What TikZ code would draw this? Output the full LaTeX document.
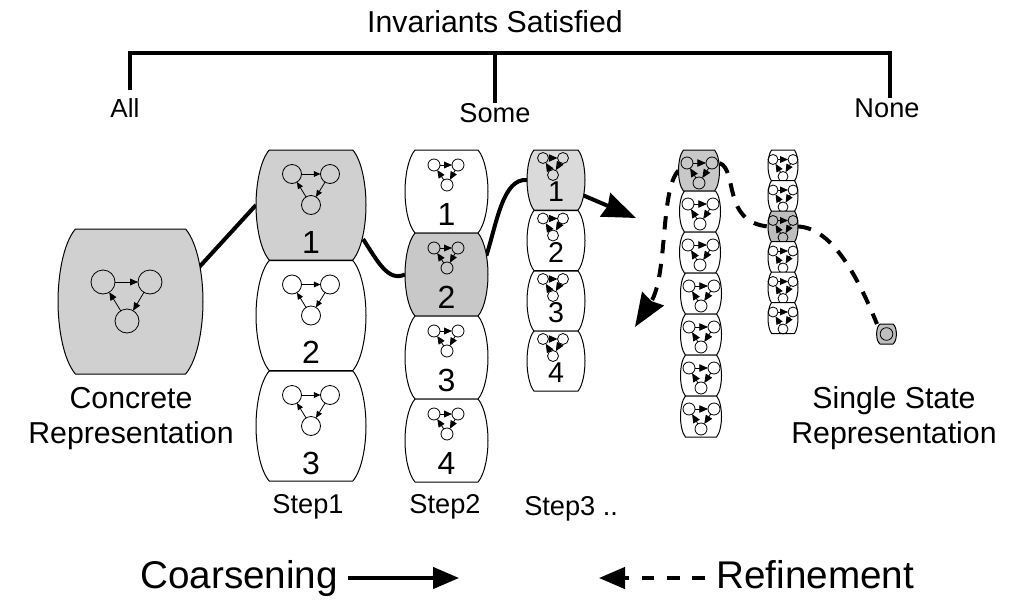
\documentclass[tikz,border=0pt]{standalone}
\usepackage{fontspec}
\setmainfont{Liberation Sans}
\usetikzlibrary{arrows.meta,backgrounds}
\definecolor{gA}{HTML}{D0D0D0}
\definecolor{gB}{HTML}{C8C8C8}
\definecolor{gC}{HTML}{DADADA}
\definecolor{gD}{HTML}{BEBEBE}
\tikzset{
  blobline/.style={draw=black,line width=0.75pt},
  anchorbox/.style={rectangle,inner sep=0pt,outer sep=0pt,draw=none},
  vertex/.style={circle,draw=black,line width=0.6pt,inner sep=0pt,outer sep=0pt,fill=none},
  link/.style={draw=black,line width=0.6pt,-{Stealth[length=#1,width=#1*0.85,inset=0pt]}},
  heavy/.style={draw=black,line width=3pt},
  heavydash/.style={draw=black,line width=3pt,dash pattern=on 10pt off 8pt},
  bracket/.style={draw=black,line width=2.3pt},
  bigtip/.style={-{Stealth[length=25pt,width=19pt,inset=2pt]}},
  keytip/.style={-{Stealth[length=19.5pt,width=16pt,inset=0pt]}},
  keyline/.style={draw=black,line width=2.6pt},
  keydash/.style={draw=black,line width=2.6pt,dash pattern=on 9.5pt off 9.5pt},
  caption/.style={inner sep=0pt,align=center,font=\fontsize{22.7}{26.3}\selectfont},
  small/.style={inner sep=0pt,font=\fontsize{20.4}{24}\selectfont},
  legend/.style={inner sep=0pt,font=\fontsize{29}{34}\selectfont},
}
% graph geometry: left dx, right dx, bottom dx, top dy, bottom dy, radius, label dy, label size, tip
\newcommand{\graphset}[9]{\def\gl{#1}\def\gr{#2}\def\gb{#3}\def\gt{#4}\def\gy{#5}\def\grad{#6}\def\gly{#7}\def\gfs{#8}\def\gtip{#9}}
% name, cx, cy, w, h, fill, label
\newcommand{\blob}[7]{%
  \node[anchorbox,minimum width=#4*0.75pt,minimum height=#5*0.75pt] (#1) at (#2,#3) {};
  \begin{scope}[shift={(#2,#3)},x={#4*0.375pt},y={#5*-0.375pt}]
    \path[blobline,fill=#6] (-0.76,1) -- (0.76,1) .. controls (0.93,0.8) and (1,0.35) .. (1,0)
      .. controls (1,-0.35) and (0.93,-0.8) .. (0.76,-1) -- (-0.76,-1)
      .. controls (-0.93,-0.8) and (-1,-0.35) .. (-1,0) .. controls (-1,0.35) and (-0.93,0.8) .. (-0.76,1) -- cycle;
  \end{scope}
  \node[vertex,minimum size=\grad*1.5pt] (#1l) at (#2+\gl,#3+\gt) {};
  \node[vertex,minimum size=\grad*1.5pt] (#1r) at (#2+\gr,#3+\gt) {};
  \node[vertex,minimum size=\grad*1.5pt] (#1b) at (#2+\gb,#3+\gy) {};
  \draw[link=\gtip] (#1l) -- (#1r);
  \draw[link=\gtip] (#1r) -- (#1b);
  \draw[link=\gtip] (#1b) -- (#1l);
  \if\relax\detokenize{#7}\relax\else
    \node[inner sep=0pt,font=\fontsize{\gfs}{\gfs}\selectfont] (#1t) at (#2,#3+\gly) {#7};
  \fi
}
\begin{document}
\begin{tikzpicture}[x=0.75pt,y=-0.75pt]
\useasboundingbox (0,0) rectangle (1014,600);
% bracket
\node[caption] (title) at (495,22) {Invariants Satisfied};
\coordinate (bl) at (130,53);
\coordinate (bm) at (495,53);
\coordinate (br) at (890,53);
\node[small,font=\fontsize{19.6}{24}\selectfont] (all) at (125,108) {All};
\node[small] (some) at (495,113) {Some};
\node[small] (none) at (887,108) {None};
\draw[bracket] (all.north -| bl) ++(0,-8) coordinate (bla) -- (bl) -- (br) -- (none.north -| br) ++(0,-2);
\draw[bracket] (bm) -- (some.north -| bm) ++(0,-10);
% concrete
\graphset{-27.5}{19.5}{-3.5}{-19.5}{19.5}{12}{0}{22}{6pt}
\blob{c}{130.5}{301.5}{145}{145}{gA}{}
\node[caption] (clab) at (131,418.5) {Concrete\\Representation};
% step 1
\graphset{-19}{19}{0}{-31}{0}{9.5}{37}{24}{5pt}
\blob{sa}{311}{205}{110}{110}{gA}{1}
\blob{sb}{311}{315.5}{110}{110}{white}{2}
\blob{sc}{311}{426}{110}{110}{white}{3}
\node[small] (step1) at (308,507) {Step1};
% step 2
\graphset{-12.5}{11.5}{0.5}{-26.5}{-6.5}{6}{22.5}{24}{6pt}
\blob{ta}{446.5}{191.5}{83}{83}{white}{1}
\blob{tb}{446.5}{274.5}{83}{83}{gB}{2}
\blob{tc}{446.5}{357.5}{83}{83}{white}{3}
\blob{td}{446.5}{440.5}{83}{83}{white}{4}
\node[small] (step2) at (445,507) {Step2};
% step 3
\graphset{-13}{7}{-3}{-22}{-5}{5.5}{12}{21.5}{6.5pt}
\blob{ua}{556}{180}{58}{60}{gC}{1}
\blob{ub}{556}{240.5}{58}{60}{white}{2}
\blob{uc}{556}{301}{58}{60}{white}{3}
\blob{ud}{556}{361}{58}{60}{white}{4}
\node[small,anchor=west] (step3) at (524,509) {Step3 ..};
% level 4
\graphset{-12}{13}{0}{-7.5}{12.5}{6}{0}{10}{6.5pt}
\blob{va}{699}{170.5}{41}{41}{gB}{}
\blob{vb}{700}{211.5}{41}{41}{white}{}
\blob{vc}{700}{252.5}{41}{41}{white}{}
\blob{vd}{701}{293.5}{41}{41}{white}{}
\blob{ve}{701}{334.5}{41}{41}{white}{}
\blob{vf}{701}{375.5}{41}{41}{white}{}
\blob{vg}{701}{416.5}{41}{41}{white}{}
% level 5
\graphset{-10}{10}{0}{-6}{11}{5}{0}{10}{6pt}
\blob{wa}{783}{165.5}{30}{31}{white}{}
\blob{wb}{783}{196}{30}{31}{white}{}
\blob{wc}{783}{226.5}{30}{31}{gD}{}
\blob{wd}{783}{257}{30}{31}{white}{}
\blob{we}{783}{287.5}{30}{31}{white}{}
\blob{wf}{783}{318}{30}{31}{white}{}
% single state
\node[anchorbox,minimum width=14.25pt,minimum height=15pt] (z) at (886.5,334) {};
\path[blobline,fill=gD] (880,324) -- (893,324) .. controls (897.5,327) and (897.5,341) .. (893,344) -- (880,344) .. controls (875.5,341) and (875.5,327) .. (880,324) -- cycle;
\node[vertex,minimum size=9.5pt] (zc) at (z) {};
\node[caption] (slab) at (894,418.5) {Single State\\Representation};
% connectors
\coordinate (uend) at (636,218);
\coordinate (vend) at (635,327);
\begin{scope}[on background layer]
\draw[heavy,shorten <=-6pt] (c.28) -- (sa.west);
\draw[heavy,shorten <=-4pt] (sa.-35) .. controls (378,262) and (388,282) .. (tb.west);
\draw[heavy,shorten <=-4pt] (tb.30) .. controls (497,222) and (503,178) .. (ua.west);
\draw[heavy,bigtip,shorten <=-2pt] (ua.-29) -- (uend);
\draw[heavydash,bigtip] (va.west) .. controls (660,190) and (668,275) .. (vend);
\draw[heavydash] (va.north east) ++(0,13) coordinate (vs) .. controls (738,170) and (722,222) .. (wc.west);
\draw[heavydash] (wc.east) .. controls (830,228) and (855,270) .. (z.north west);
\end{scope}
% legend
\node[legend,anchor=base west] (coarse) at (140,588) {Coarsening};
\node[legend,anchor=base west] (refine) at (716,588) {Refinement};
\coordinate (cend) at (459,578);
\coordinate (rend) at (599,578);
\draw[keyline,keytip] (coarse.east |- cend) ++(10,0) -- (cend);
\draw[keydash,keytip] (refine.west |- rend) ++(-11,0) -- (rend);
\end{tikzpicture}
\end{document}
